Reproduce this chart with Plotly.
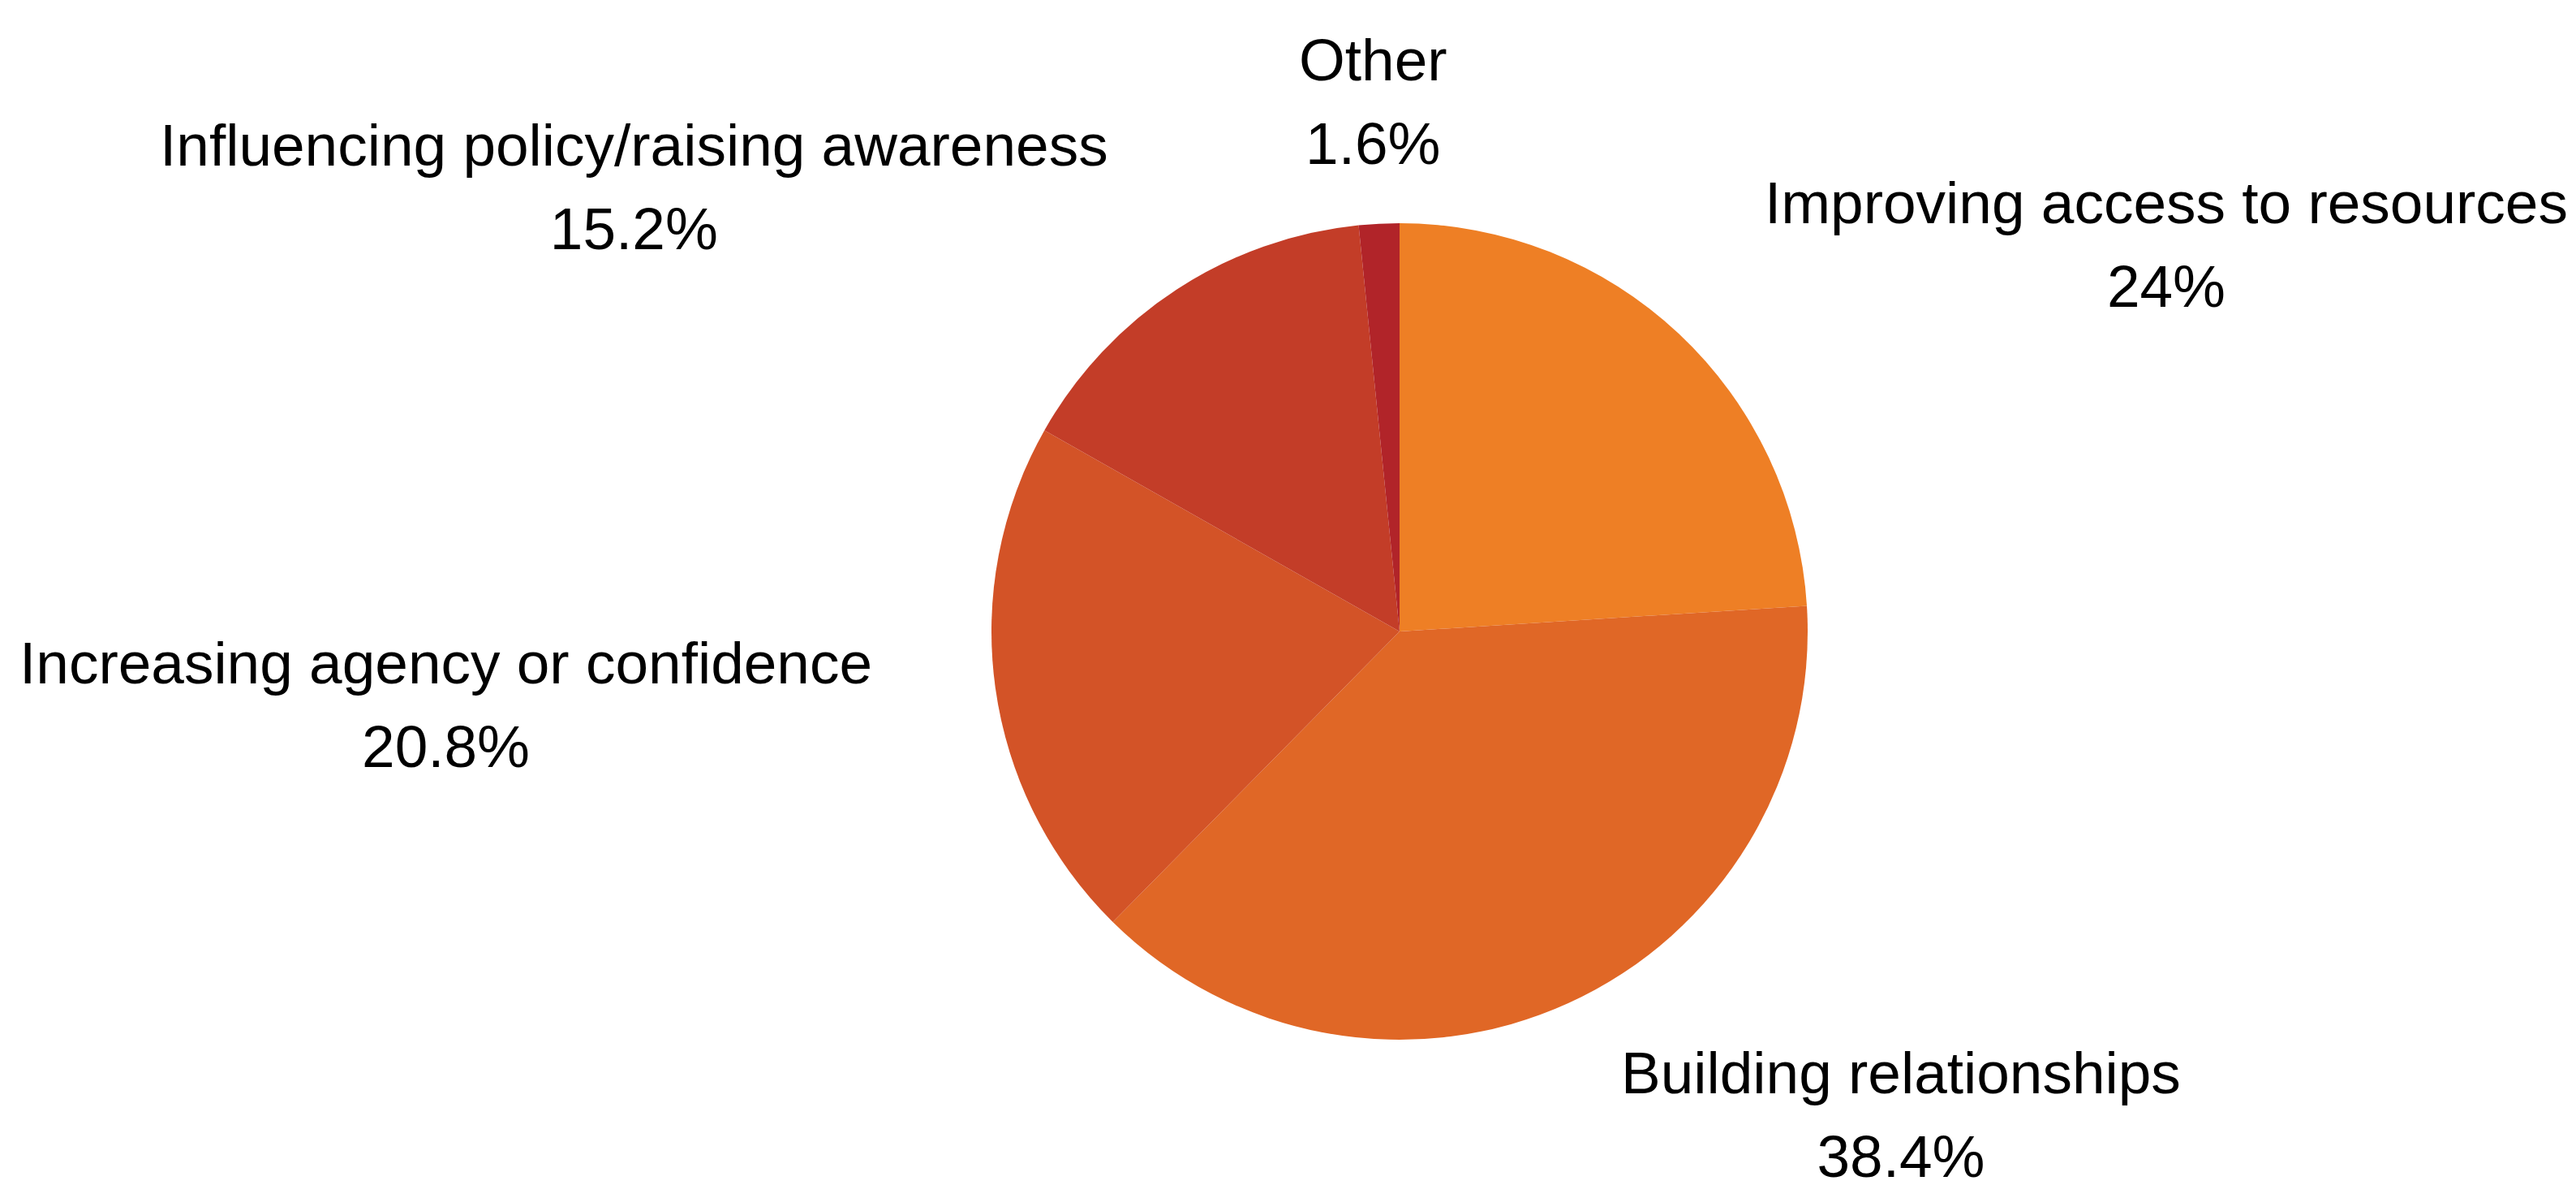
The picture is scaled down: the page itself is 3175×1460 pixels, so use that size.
import math
import plotly.graph_objects as go

labels = ["Improving access to resources", "Building relationships",
          "Increasing agency or confidence", "Influencing policy/raising awareness", "Other"]
values = [24, 38.4, 20.8, 15.2, 1.6]
colors = ["#EE7F25", "#E06726", "#D35327", "#C33D28", "#B12429"]

W, H = 3175, 1460
# pie placement (figure pixels; the page adds an 8px body margin)
CX, CY, R = 1717, 770, 503
FONT = "Liberation Sans, Arial, sans-serif"
TEXT_SIZE = 73      # glyph size of label text
LINE_SIZE = 79      # controls line pitch (1.3 x size)
LABEL_RADIUS = 1.3  # label anchor distance, in pie radii

fig = go.Figure(go.Pie(
    labels=labels, values=values, sort=False, direction="clockwise", rotation=0,
    marker=dict(colors=colors),
    textinfo="none", hoverinfo="label+percent",
    domain=dict(x=[(CX - R) / W, (CX + R) / W], y=[1 - (CY + R) / H, 1 - (CY - R) / H]),
    showlegend=False,
))

# outside labels (label + percent, no leader lines), placed from each slice's mid-angle
total = sum(values)
cum = 0.0
for lab, v in zip(labels, values):
    theta = 2 * math.pi * (cum + v / 2) / total
    cum += v
    s, c = math.sin(theta), math.cos(theta)
    px = CX + LABEL_RADIUS * R * s
    py = CY - LABEL_RADIUS * R * c
    xa = "left" if s > 0.2 else ("right" if s < -0.2 else "center")
    pct = f"{v / total * 100:.3g}%"
    span = f"<span style='font-size:{TEXT_SIZE}px'>"
    fig.add_annotation(
        x=px / W, y=1 - py / H, xref="paper", yref="paper",
        xanchor=xa, yanchor="middle", align="center", showarrow=False,
        text=f"{span}{lab}</span><br>{span}{pct}</span>",
        font=dict(family=FONT, size=LINE_SIZE, color="#000000"),
    )

fig.update_layout(
    width=W, height=H,
    margin=dict(l=0, r=0, t=0, b=0, autoexpand=False),
    paper_bgcolor="white", plot_bgcolor="white",
    font=dict(family=FONT),
)
fig.write_html("out.html")
